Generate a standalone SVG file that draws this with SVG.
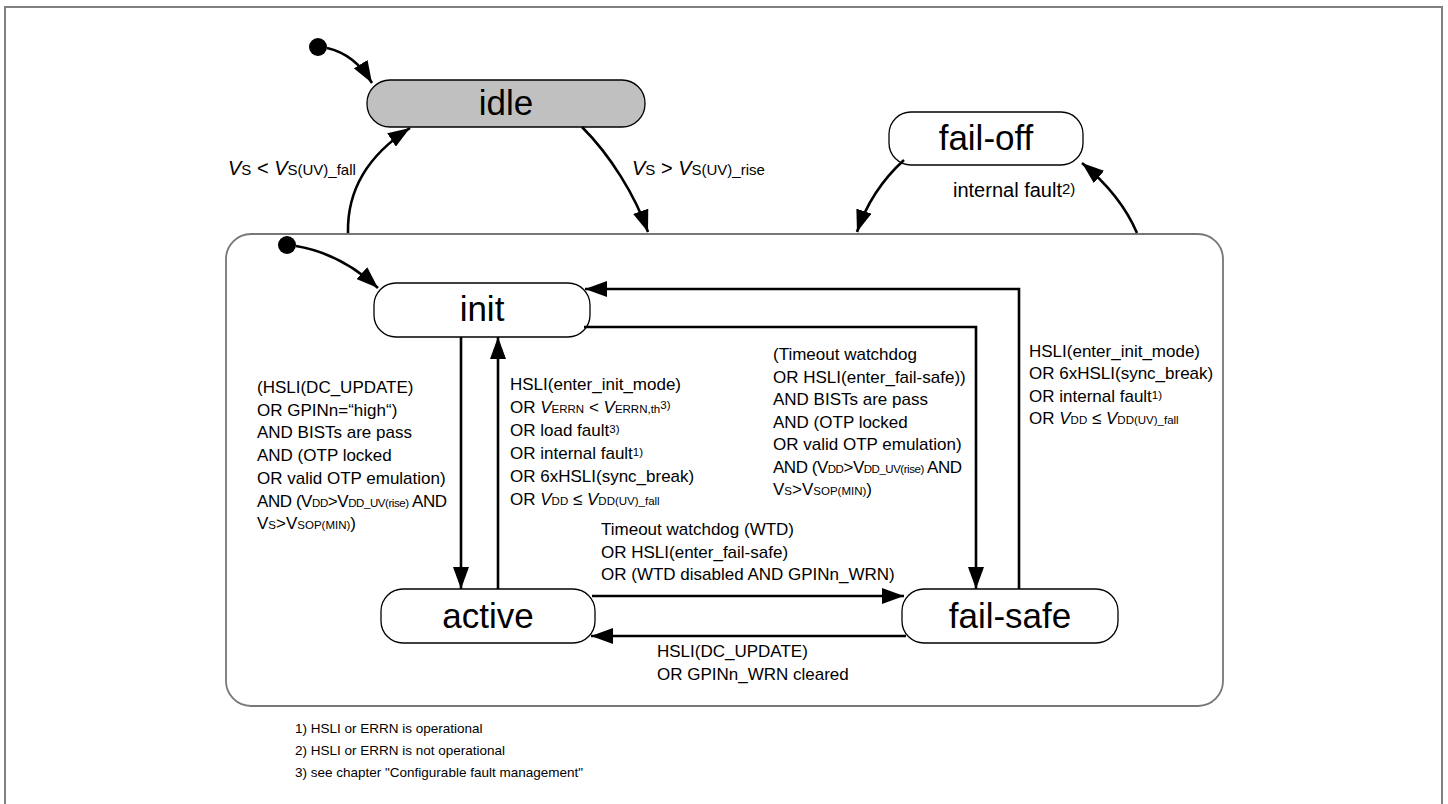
<svg xmlns="http://www.w3.org/2000/svg" width="1448" height="804" viewBox="0 0 1448 804">
<style>
.t{font-family:"Liberation Sans",Arial,sans-serif;font-size:17px;fill:#000}
.tl{font-family:"Liberation Sans",Arial,sans-serif;font-size:20px;fill:#000}
.st{font-family:"Liberation Sans",Arial,sans-serif;font-size:35px;fill:#000;text-anchor:middle}
.fn{font-family:"Liberation Sans",Arial,sans-serif;font-size:13.5px;fill:#000}
.s{font-size:11.5px}
.sl{font-size:15px}
.i{font-style:italic}
.box{fill:#fff;stroke:#000;stroke-width:1.3}
.c{fill:none;stroke:#000;stroke-width:2.6}
</style>
<defs>
<marker id="ah" viewBox="0 0 22 16" refX="22" refY="8" markerWidth="22" markerHeight="16" markerUnits="userSpaceOnUse" orient="auto">
<path d="M0,0 L22,8 L0,16 z" fill="#000"/>
</marker>
</defs>
<rect width="1448" height="804" fill="#fff"/>
<path d="M5 804 V7 H1442 V804" fill="none" stroke="#808080" stroke-width="2"/>
<rect id="container" x="226" y="234" width="997" height="472" rx="25" fill="none" stroke="#777" stroke-width="1.8"/>

<g id="start1"><circle cx="318" cy="47" r="9" fill="#000"/></g>
<g id="start2"><circle cx="287" cy="245" r="9" fill="#000"/></g>

<g id="idle"><rect class="box" x="367" y="80" width="278" height="47" rx="23" style="fill:#c0c0c0"/><text class="st" x="506" y="115">idle</text></g>
<g id="fail-off"><rect class="box" x="889" y="112" width="194" height="53" rx="22"/><text class="st" x="986" y="150">fail-off</text></g>
<g id="init"><rect class="box" x="374" y="283" width="216" height="54" rx="22"/><text class="st" x="482" y="321">init</text></g>
<g id="active"><rect class="box" x="381" y="589" width="214" height="54" rx="22"/><text class="st" x="488" y="628">active</text></g>
<g id="fail-safe"><rect class="box" x="902" y="589" width="216" height="54" rx="22"/><text class="st" x="1010" y="628">fail-safe</text></g>

<g id="connectors">
<path class="c" d="M327 48 C345 52 360 63 372 83" marker-end="url(#ah)"/>
<path class="c" d="M296 246 C320 250 350 262 378 288" marker-end="url(#ah)"/>
<path class="c" d="M348 233 C347 190 368 155 410 128" marker-end="url(#ah)"/>
<path class="c" d="M582 127 C610 155 635 195 648 232" marker-end="url(#ah)"/>
<path class="c" d="M904 160 C882 180 866 205 857 232" marker-end="url(#ah)"/>
<path class="c" d="M1137 233 C1125 205 1105 182 1082 163" marker-end="url(#ah)"/>
<path class="c" d="M584 327 H976 V589" marker-end="url(#ah)"/>
<path class="c" d="M1019 589 V289 H585" marker-end="url(#ah)"/>
<path class="c" d="M461 337 V589" marker-end="url(#ah)"/>
<path class="c" d="M498 589 V337" marker-end="url(#ah)"/>
<path class="c" d="M592 596 H904" marker-end="url(#ah)"/>
<path class="c" d="M906 636 H591" marker-end="url(#ah)"/>
</g>

<g id="labels">
<text class="tl" x="228" y="175"><tspan class="i">V</tspan><tspan class="sl">S</tspan> &lt; <tspan class="i">V</tspan><tspan class="sl">S(UV)_fall</tspan></text>
<text class="tl" x="632" y="175"><tspan class="i">V</tspan><tspan class="sl">S</tspan> &gt; <tspan class="i">V</tspan><tspan class="sl">S(UV)_rise</tspan></text>
<text class="tl" x="953" y="197">internal fault<tspan class="sl" dy="-3">2)</tspan></text>

<text class="t" x="257" y="393">(HSLI(DC_UPDATE)</text>
<text class="t" x="257" y="416">OR GPINn=“high“)</text>
<text class="t" x="257" y="438">AND BISTs are pass</text>
<text class="t" x="257" y="461">AND (OTP locked</text>
<text class="t" x="257" y="484">OR valid OTP emulation)</text>
<text class="t" x="257" y="507" textLength="190" lengthAdjust="spacing">AND (V<tspan class="s">DD</tspan>&gt;V<tspan class="s">DD_UV(rise)</tspan> AND</text>
<text class="t" x="257" y="529">V<tspan class="s">S</tspan>&gt;V<tspan class="s">SOP(MIN)</tspan>)</text>

<text class="t" x="510" y="390">HSLI(enter_init_mode)</text>
<text class="t" x="510" y="413">OR <tspan class="i">V</tspan><tspan class="s">ERRN</tspan> &lt; <tspan class="i">V</tspan><tspan class="s">ERRN,th</tspan><tspan class="s" dy="-4">3)</tspan></text>
<text class="t" x="510" y="436">OR load fault<tspan class="s" dy="-3">3)</tspan></text>
<text class="t" x="510" y="459">OR internal fault<tspan class="s" dy="-3">1)</tspan></text>
<text class="t" x="510" y="482">OR 6xHSLI(sync_break)</text>
<text class="t" x="510" y="505">OR <tspan class="i">V</tspan><tspan class="s">DD</tspan> ≤ <tspan class="i">V</tspan><tspan class="s">DD(UV)_fall</tspan></text>

<text class="t" x="773" y="360">(Timeout watchdog</text>
<text class="t" x="773" y="383">OR HSLI(enter_fail-safe))</text>
<text class="t" x="773" y="405">AND BISTs are pass</text>
<text class="t" x="773" y="428">AND (OTP locked</text>
<text class="t" x="773" y="450">OR valid OTP emulation)</text>
<text class="t" x="773" y="473" textLength="189" lengthAdjust="spacing">AND (V<tspan class="s">DD</tspan>&gt;V<tspan class="s">DD_UV(rise)</tspan> AND</text>
<text class="t" x="773" y="495">V<tspan class="s">S</tspan>&gt;V<tspan class="s">SOP(MIN)</tspan>)</text>

<text class="t" x="1029" y="357">HSLI(enter_init_mode)</text>
<text class="t" x="1029" y="379">OR 6xHSLI(sync_break)</text>
<text class="t" x="1029" y="402">OR internal fault<tspan class="s" dy="-3">1)</tspan></text>
<text class="t" x="1029" y="424">OR <tspan class="i">V</tspan><tspan class="s">DD</tspan> ≤ <tspan class="i">V</tspan><tspan class="s">DD(UV)_fall</tspan></text>

<text class="t" x="601" y="535">Timeout watchdog (WTD)</text>
<text class="t" x="601" y="558">OR HSLI(enter_fail-safe)</text>
<text class="t" x="601" y="580">OR (WTD disabled AND GPINn_WRN)</text>

<text class="t" x="657" y="657">HSLI(DC_UPDATE)</text>
<text class="t" x="657" y="680">OR GPINn_WRN cleared</text>

<text class="fn" x="295" y="733">1) HSLI or ERRN is operational</text>
<text class="fn" x="295" y="755">2) HSLI or ERRN is not operational</text>
<text class="fn" x="295" y="777">3) see chapter "Configurable fault management"</text>
</g>
</svg>
